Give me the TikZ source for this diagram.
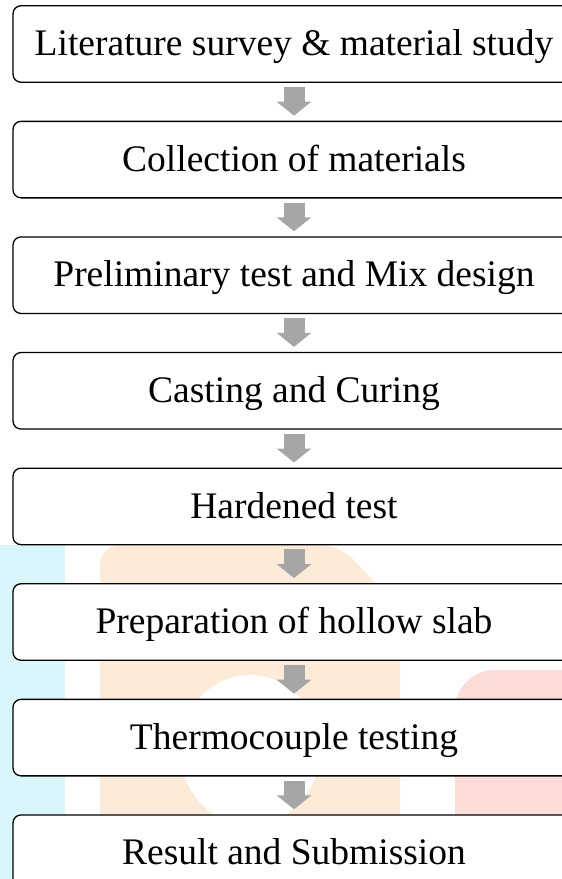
\documentclass[tikz,border=0pt]{standalone}
\usepackage{xcolor}
\usepackage{fontspec}
\setmainfont{Liberation Serif}
\usepackage{tikz}
\usetikzlibrary{shapes,arrows.meta,positioning,backgrounds}

\definecolor{flowgray}{HTML}{A6A6A6}
\definecolor{markcyan}{HTML}{D8F6FB}
\definecolor{markpeach}{HTML}{FDEBDA}
\definecolor{markpink}{HTML}{FCDCD6}

\begin{document}
\begin{tikzpicture}[
    x=1pt, y=1pt,
    node distance=37.8pt,
    stage/.style={rectangle, rounded corners=8pt, draw, line width=1.3pt, fill=white, minimum width=562pt, minimum height=76.5pt, inner sep=0pt, text height=27.5pt, text depth=4pt, font=\fontsize{37.5}{44}\selectfont},
    flow/.style={draw=flowgray, line width=21pt, shorten <=4pt, shorten >=5pt, -{Triangle[length=14pt, width=34pt]}}
]
\useasboundingbox (0,0) rectangle (562,-879);
\clip (0,0) rectangle (562,-879);

% faint watermark behind the lower boxes
\fill[markcyan] (0,-545) rectangle (65,-879);
\fill[markpeach, rounded corners=20pt] (100,-545) -- (340,-545) -- (400,-610) -- (400,-879) -- (100,-879) -- cycle;
\fill[white] (250,-750) ellipse (70pt and 75pt);
\fill[markpink, rounded corners=40pt] (455,-670) rectangle (600,-900);

\node[stage] (lit) at (294,-44) {Literature survey \& material study};
\node[stage, below=of lit] (coll) {Collection of materials};
\node[stage, below=of coll] (prelim) {Preliminary test and Mix design};
\node[stage, below=of prelim] (cast) {Casting and Curing};
\node[stage, below=of cast] (hard) {Hardened test};
\node[stage, below=of hard] (slab) {Preparation of hollow slab};
\node[stage, below=of slab] (thermo) {Thermocouple testing};
\node[stage, below=of thermo] (result) {Result and Submission};

\draw[flow] (lit) -- (coll);
\draw[flow] (coll) -- (prelim);
\draw[flow] (prelim) -- (cast);
\draw[flow] (cast) -- (hard);
\draw[flow] (hard) -- (slab);
\draw[flow] (slab) -- (thermo);
\draw[flow] (thermo) -- (result);

\end{tikzpicture}
\end{document}
